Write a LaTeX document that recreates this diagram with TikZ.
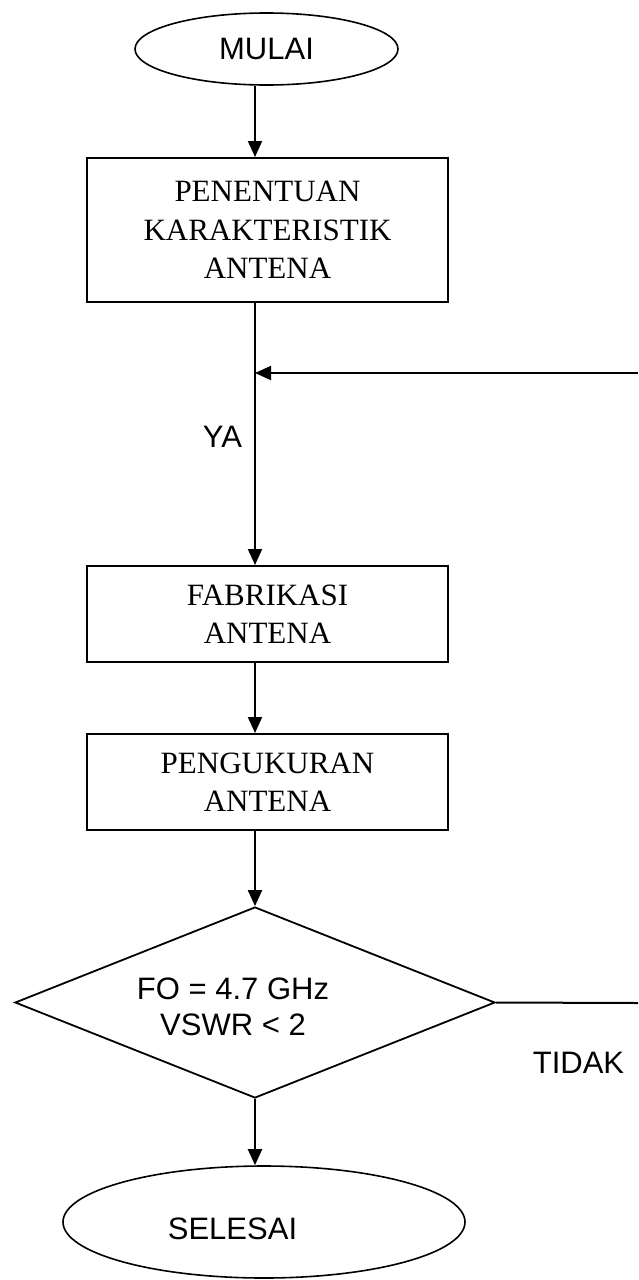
\documentclass[tikz,border=0pt]{standalone}
\usepackage{fontspec}
\setmainfont{Liberation Serif}
\newfontfamily\arialfont{Liberation Sans}
\usetikzlibrary{shapes.geometric, arrows.meta}

\begin{document}
\begin{tikzpicture}[x=1pt, y=-1pt,
  line width=2pt,
  procbox/.style={draw, rectangle, minimum width=361pt, inner sep=0pt,
    align=center, font=\fontsize{31}{38.5}\selectfont},
  terminal/.style={draw, ellipse, inner sep=0pt, line width=1.6pt},
  decision/.style={draw, diamond, inner sep=0pt, line width=1.8pt},
  sanslabel/.style={font=\arialfont\fontsize{31}{36}\selectfont, inner sep=0pt},
  flow/.style={-{Triangle[length=16pt,width=14pt]}},
]
\useasboundingbox (0,0) rectangle (638,1280);

% vertical axis of the main flow
\coordinate (spine) at (255,0);

% blocks
\node[terminal, sanslabel, draw, minimum width=263pt, minimum height=72pt] (start) at (266.5,49) {MULAI};
\node[procbox, minimum height=144pt] (char) at (267.5,230) {PENENTUAN\\KARAKTERISTIK\\ANTENA};
\node[procbox, minimum height=96pt] (fab) at (267.5,614) {FABRIKASI\\ANTENA};
\node[procbox, minimum height=96pt] (meas) at (267.5,782) {PENGUKURAN\\ANTENA};
\node[decision, minimum width=480pt, minimum height=191pt] (check) at (255,1002.5) {};
\node[sanslabel, align=center] (cond) at (233,1007) {FO = 4.7 GHz\\VSWR < 2};
\node[terminal, minimum width=402pt, minimum height=112pt] (finish) at (264,1222) {};
\node[sanslabel, anchor=base] (finishtext) at (232.5,1239) {SELESAI};

% branch labels
\node[sanslabel, anchor=base] (yes) at (222.5,447) {YA};
\node[sanslabel, anchor=base] (no) at (578.5,1073) {TIDAK};

% loop-back ends
\coordinate (loopin) at (255,373);
\coordinate (loopedge) at (638,373);
\coordinate (noedge) at (638,1003);

% connectors
\draw[flow] (start.south -| spine) -- (char.north -| spine);
\draw[flow] (char.south -| spine) -- (fab.north -| spine);
\draw[flow] (loopedge) -- (loopin);
\draw[flow] (fab.south -| spine) -- (meas.north -| spine);
\draw[flow] (meas.south -| spine) -- (check.north);
\draw[flow] (check.south) -- (finish.north -| spine);
\draw (check.east) -- (noedge);
\end{tikzpicture}
\end{document}
